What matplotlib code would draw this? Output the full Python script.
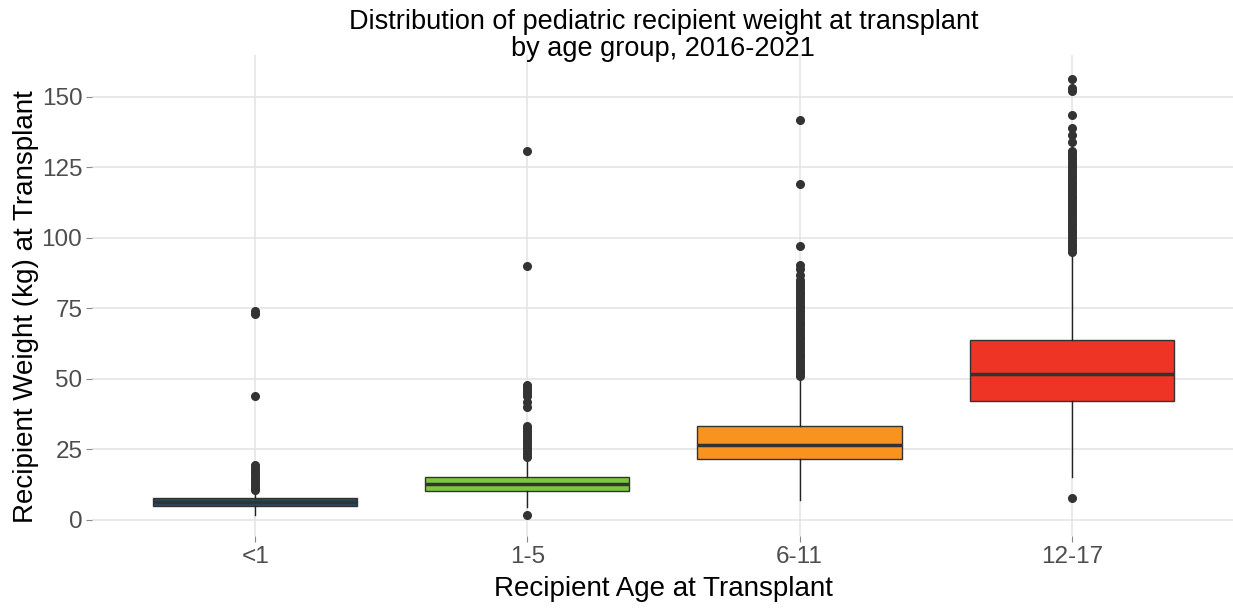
import matplotlib.pyplot as plt

plt.rcParams['font.family'] = ['Liberation Sans', 'DejaVu Sans']

groups = ['<1', '1-5', '6-11', '12-17']
fills = ['#1d4f5e', '#7dc63f', '#f7931e', '#ee3424']

# box statistics (kg)
q1 = [5.0, 10.3, 21.6, 42.3]
med = [6.5, 12.8, 26.6, 51.8]
q3 = [7.8, 15.2, 33.4, 63.8]
whis_lo = [1.8, 4.5, 7.0, 15.4]
whis_hi = [10.0, 22.0, 50.5, 94.8]

# outliers, dense runs read as roughly 1 kg apart
out_lt1 = [10.5, 11.5, 12.5, 13.5, 14.5, 15.5, 16.5, 17.5, 18.5, 19.5, 44, 73, 74]
out_1_5 = [1.8, 22.5, 23.5, 24.5, 25.5, 26.5, 27.5, 28.5, 29.5, 30.5, 31.5, 32.5, 33.5,
           40, 42, 44, 45, 46, 47, 48, 90, 131]
out_6_11 = [51, 52, 53, 54, 55, 56, 57, 58, 59, 60, 61, 62, 63, 64, 65, 66, 67, 68, 69,
            70, 71, 72, 73, 74, 75, 76, 77, 78, 79, 80, 81, 82, 83, 84, 85,
            87, 89, 90.5, 97, 119, 142]
out_12_17 = [7.8, 95, 96, 97, 98, 99, 100, 101, 102, 103, 104, 105, 106, 107, 108, 109,
             110, 111, 112, 113, 114, 115, 116, 117, 118, 119, 120, 121, 122, 123, 124,
             125, 126, 127, 128, 129, 130, 131, 134, 136.5, 139, 143.5, 152, 153, 156.5]
outliers = [out_lt1, out_1_5, out_6_11, out_12_17]

stats = []
for i in range(len(groups)):
    stats.append({'label': groups[i], 'q1': q1[i], 'med': med[i], 'q3': q3[i],
                  'whislo': whis_lo[i], 'whishi': whis_hi[i], 'fliers': outliers[i]})

fig = plt.figure(figsize=(12.33, 6.11), dpi=100)
ax = fig.add_axes([0.0746, 0.1224, 0.927, 0.787])

bp = ax.bxp(stats, positions=[1, 2, 3, 4], widths=0.75, patch_artist=True,
            boxprops=dict(edgecolor='#333333', linewidth=1.0),
            medianprops=dict(color='#333333', linewidth=2.5),
            whiskerprops=dict(color='#222222', linewidth=1.0),
            capprops=dict(linewidth=0),
            flierprops=dict(marker='o', markerfacecolor='#333333', markeredgecolor='#333333',
                            markersize=5.5))
for patch, c in zip(bp['boxes'], fills):
    patch.set_facecolor(c)

ax.set_xlim(0.4, 4.6)
ax.set_ylim(-5.75, 164.75)
ax.set_yticks([0, 25, 50, 75, 100, 125, 150])
ax.grid(True, color='#e5e5e5', linewidth=1.2)
ax.set_axisbelow(True)
for s in ax.spines.values():
    s.set_visible(False)
ax.tick_params(colors='#888888', labelcolor='#4d4d4d', labelsize=17.5, length=4, pad=3)

fig.text(0.538, 0.985, 'Distribution of pediatric recipient weight at transplant\nby age group, 2016-2021',
         ha='center', va='top', fontsize=19.5, linespacing=1.05)
ax.set_xlabel('Recipient Age at Transplant', fontsize=20, labelpad=6)
ax.set_ylabel('Recipient Weight (kg) at Transplant', fontsize=20)
ax.yaxis.set_label_coords(-0.046, 0.478)

fig.savefig('out.png', dpi=100)
